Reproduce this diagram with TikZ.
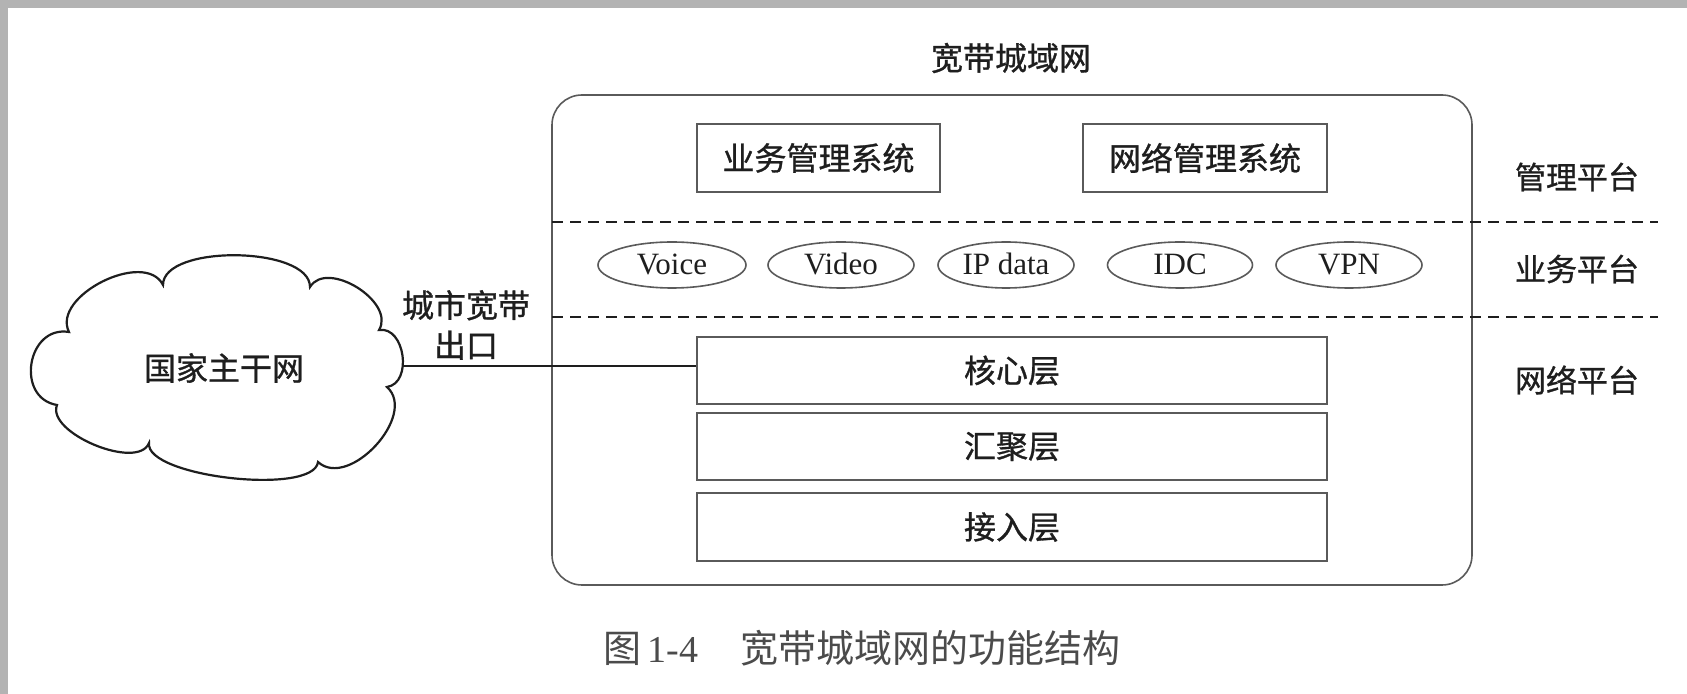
\documentclass[tikz,border=0pt]{standalone}
\usepackage{fontspec}
\setmainfont{Liberation Serif}
\newfontfamily\cjk[FakeBold=0.9]{Noto Sans CJK SC}
\newfontfamily\cjkcap{Noto Sans CJK SC}
\usetikzlibrary{shapes.geometric}
\definecolor{frame}{HTML}{B3B3B3}
\definecolor{ln}{HTML}{5A5A5A}
\definecolor{ink}{HTML}{1E1E1E}
\tikzset{
  cn/.style={font=\cjk\fontsize{16pt}{20pt}\selectfont, text=ink},
  boxed/.style={draw=ln, line width=0.9pt, inner sep=0pt},
  oval/.style={ellipse, draw=ln, line width=0.8pt, inner sep=0pt, minimum height=23pt,
     text height=11.6pt, text depth=1.6pt,
     font=\fontsize{15.5pt}{18pt}\selectfont, text=ink},
  sep/.style={draw=ink, line width=1.3pt, dash pattern=on 5.5pt off 3.5pt},
  plat/.style={cn, font=\cjk\fontsize{15.5pt}{19pt}\selectfont},
}
\begin{document}
\begin{tikzpicture}[x=0.5pt,y=-0.5pt]
\useasboundingbox (0,0) rectangle (1687,694);
\fill[white] (0,0) rectangle (1687,694);
\fill[frame] (0,0) rectangle (1687,8);
\fill[frame] (0,0) rectangle (8,694);

% title
\node[cn] (title) at (1011,58) {宽带城域网};

% outer rounded box
\node[draw=ln, line width=0.8pt, rounded corners=15pt, minimum width=460pt, minimum height=245pt, inner sep=0pt] (outer) at (1012,340) {};

% management systems
\node[boxed, cn, minimum width=121.5pt, minimum height=34pt] (bms) at (818.5,158) {业务管理系统};
\node[boxed, cn, minimum width=122pt, minimum height=34pt] (nms) at (1205,158) {网络管理系统};

% separators
\coordinate (s1a) at (552,222); \coordinate (s1b) at (1658,222);
\coordinate (s2a) at (552,317); \coordinate (s2b) at (1658,317);
\draw[sep] (s1a) -- (s1b);
\draw[sep] (s2a) -- (s2b);

% services
\node[oval, minimum width=74pt] (voice) at (672,265) {Voice};
\node[oval, minimum width=73pt] (video) at (841,265) {Video};
\node[oval, minimum width=68pt] (ipdata) at (1006,265) {IP data};
\node[oval, minimum width=72.5pt] (idc) at (1180,265) {IDC};
\node[oval, minimum width=73pt] (vpn) at (1349,265) {VPN};

% layers
\node[boxed, cn, minimum width=315pt, minimum height=33.5pt] (core) at (1012,370.5) {核心层};
\node[boxed, cn, minimum width=315pt, minimum height=33.5pt] (agg) at (1012,446.5) {汇聚层};
\node[boxed, cn, minimum width=315pt, minimum height=34pt] (acc) at (1012,527) {接入层};

% platform labels
\node[plat] (mgmt) at (1577,177) {管理平台};
\node[plat] (svc) at (1577,269) {业务平台};
\node[plat] (netp) at (1577,380) {网络平台};

% cloud
\draw[draw=ink, line width=1.1pt]
  (57,405) .. controls (15,398) and (27,325) .. (69,332)
  .. controls (51,296) and (145,249) .. (163,285)
  .. controls (163,244) and (310,246) .. (310,287)
  .. controls (327,259) and (396,302) .. (379,330)
  .. controls (405,326) and (413,383) .. (387,387)
  .. controls (418,415) and (349,490) .. (318,462)
  .. controls (314,496) and (145,477) .. (149,443)
  .. controls (138,471) and (46,433) .. (57,405) -- cycle;
\node[cn] (cloud) at (224,368) {国家主干网};
\coordinate (cloudE) at (402,366);

% exit link
\node[cn, align=center] (exit) at (466,325) {城市宽带\\出口};
\draw[draw=ink, line width=1pt] (cloudE) -- (cloudE -| core.west);

% caption
\node[anchor=west, text=ink!80, inner sep=0pt] (cap) at (603,648)
  {\fontsize{19pt}{22pt}\selectfont{\cjkcap 图}\,1-4\hspace{1.1em}{\cjkcap 宽带城域网的功能结构}};
\end{tikzpicture}
\end{document}
